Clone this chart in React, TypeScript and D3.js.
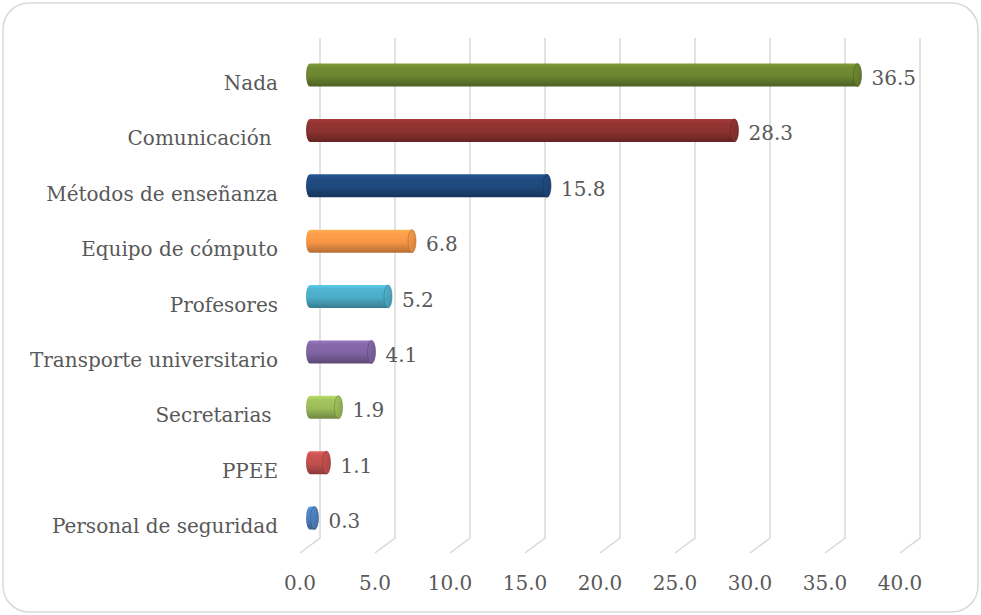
import React from "react";
import * as d3 from "d3";

const categories = [
  "Nada",
  "Comunicación ",
  "Métodos de enseñanza",
  "Equipo de cómputo",
  "Profesores",
  "Transporte universitario",
  "Secretarias ",
  "PPEE",
  "Personal de seguridad",
];
const values = [36.5, 28.3, 15.8, 6.8, 5.2, 4.1, 1.9, 1.1, 0.3];
const colors = ["#6a8530", "#8c3230", "#1f497d", "#f79646", "#4bacc6", "#8064a2", "#9bbb59", "#c0504d", "#4f81bd"];
const ticks = [0, 5, 10, 15, 20, 25, 30, 35, 40];

const W = 981;
const H = 615;
const FONT = "'DejaVu Serif', serif";
const TEXT = "#595959";
const FS = 20;

export default function App() {
  const xBack = d3.scaleLinear().domain([0, 40]).range([320, 920]);
  const depthX = -20;
  const depthY = 15;
  const xBar = d3.scaleLinear().domain([0, 40]).range([310, 910]);
  const y = d3.scalePoint<string>().domain(categories).range([75, 518]);
  const gridTop = 38;
  const gridBottom = 538;
  const barH = 23;
  const rx = 4;

  return (
    <div style={{ position: "absolute", left: 0, top: 0 }}>
      <svg width={W} height={H} style={{ display: "block", background: "#fff" }}>
        <defs>
          {colors.map((c, i) => {
            const base = d3.color(c)!;
            return (
              <React.Fragment key={i}>
                <linearGradient id={`body${i}`} x1="0" y1="0" x2="0" y2="1">
                  <stop offset="0%" stopColor={d3.color(c)!.brighter(0.5).formatHex()} />
                  <stop offset="18%" stopColor={base.brighter(0.15).formatHex()} />
                  <stop offset="55%" stopColor={base.formatHex()} />
                  <stop offset="100%" stopColor={d3.color(c)!.darker(0.9).formatHex()} />
                </linearGradient>
                <linearGradient id={`cap${i}`} x1="0" y1="0" x2="1" y2="1">
                  <stop offset="0%" stopColor={d3.color(c)!.brighter(0.2).formatHex()} />
                  <stop offset="100%" stopColor={d3.color(c)!.darker(0.5).formatHex()} />
                </linearGradient>
              </React.Fragment>
            );
          })}
        </defs>
        <rect x={3} y={3} width={975} height={609} rx={26} ry={26} fill="#fff" stroke="#d9d9d9" strokeWidth={1.5} />
        {ticks.map((t) => (
          <path
            key={t}
            d={`M${xBack(t)},${gridTop}V${gridBottom}L${xBack(t) + depthX},${gridBottom + depthY}`}
            fill="none"
            stroke="#d9d9d9"
            strokeWidth={1.5}
          />
        ))}
        {ticks.map((t) => (
          <text
            key={t}
            x={xBack(t) + depthX}
            y={583}
            textAnchor="middle"
            dominantBaseline="central"
            fontFamily={FONT}
            fontSize={FS}
            fill={TEXT}
          >
            {t.toFixed(1)}
          </text>
        ))}
        {categories.map((c, i) => {
          const cy = y(c)!;
          const x0 = xBar(0);
          const x1 = xBar(values[i]);
          const ry = barH / 2;
          const body = `M${x0},${cy - ry}H${x1}V${cy + ry}H${x0}A${rx},${ry} 0 0 1 ${x0},${cy - ry}Z`;
          return (
            <g key={c}>
              <path d={body} fill={`url(#body${i})`} />
              <ellipse cx={x1} cy={cy} rx={rx} ry={ry} fill={`url(#cap${i})`} stroke={d3.color(colors[i])!.darker(1).formatHex()} strokeWidth={0.6} />
              <text
                x={x1 + rx + 10}
                y={cy + 3}
                dominantBaseline="central"
                fontFamily={FONT}
                fontSize={FS}
                fill={TEXT}
              >
                {values[i].toFixed(1)}
              </text>
              <text
                x={278}
                y={cy + 8}
                textAnchor="end"
                dominantBaseline="central"
                fontFamily={FONT}
                fontSize={FS}
                fill={TEXT}
                style={{ whiteSpace: "pre" }}
              >
                {c}
              </text>
            </g>
          );
        })}
      </svg>
    </div>
  );
}
